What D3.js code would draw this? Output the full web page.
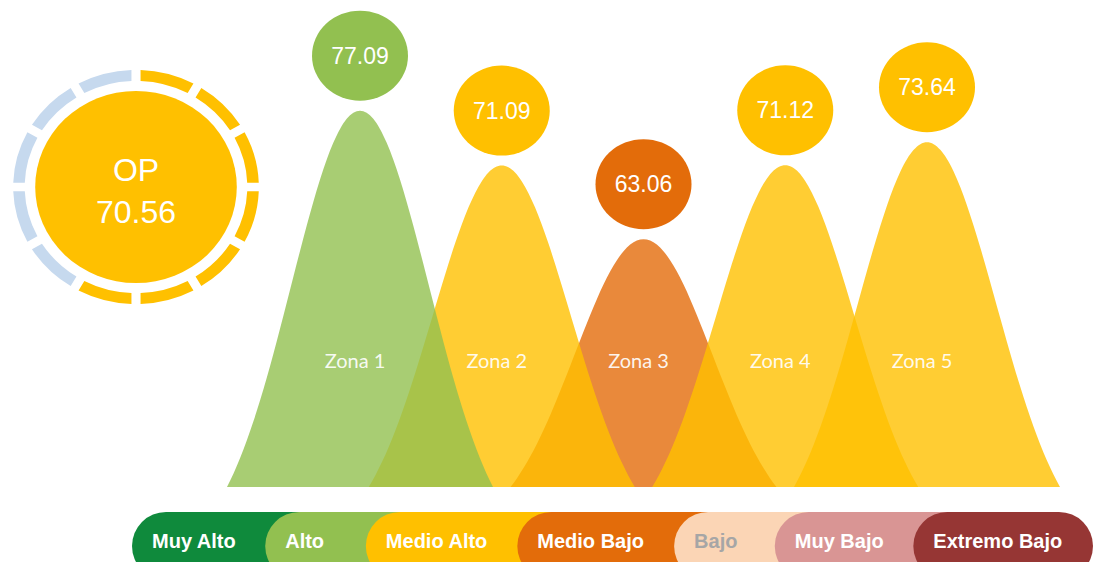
<!DOCTYPE html>
<html>
<head>
<meta charset="utf-8">
<script src="https://cdn.jsdelivr.net/npm/d3@7"></script>
<style>
  body { margin: 0; background: #fff; }
</style>
</head>
<body>
<script>
const width = 1097;
const height = 562;

// zone scores
const zones = ["Zona 1", "Zona 2", "Zona 3", "Zona 4", "Zona 5"];
const scores = [77.09, 71.09, 63.06, 71.12, 73.64];

// overall score and its ring
const overallLabel = "OP";
const overallScore = 70.56;
const ringSegments = 12;
const ringFilled = 7;

// levels, from highest to lowest
const levels = ["Muy Alto", "Alto", "Medio Alto", "Medio Bajo", "Bajo", "Muy Bajo", "Extremo Bajo"];
const levelColors = ["#0f8a3c", "#92c050", "#ffc000", "#e36c0a", "#fbd5b5", "#d99594", "#963634"];
const levelTextColors = ["#fff", "#fff", "#fff", "#fff", "#a6a6a6", "#fff", "#fff"];
// lower bound of each level, lowest first (Muy Bajo ... Muy Alto)
const levelThresholds = [40, 50, 60, 70, 75, 80];

const levelColor = d3.scaleThreshold()
    .domain(levelThresholds)
    .range(levelColors.slice().reverse());

const svg = d3.select("body")
    .append("svg")
    .attr("width", width)
    .attr("height", height);

// ---- overall donut
const donut = svg.append("g")
    .attr("transform", "translate(136,187) scale(1.05,1)");

const pie = d3.pie().sort(null).value(1).padAngle(0.055);
const ringArc = d3.arc().innerRadius(106).outerRadius(117);

donut.selectAll("path")
    .data(pie(d3.range(ringSegments)))
    .join("path")
    .attr("d", ringArc)
    .attr("fill", (d, i) => i < ringFilled ? levelColor(overallScore) : "#c6d9ee");

donut.append("circle")
    .attr("r", 96)
    .attr("fill", levelColor(overallScore));

svg.append("text")
    .attr("x", 136)
    .attr("y", 181)
    .attr("text-anchor", "middle")
    .style("font", "32px 'Liberation Sans', Arial, sans-serif")
    .attr("fill", "#fff")
    .text(overallLabel);

svg.append("text")
    .attr("x", 136)
    .attr("y", 223)
    .attr("text-anchor", "middle")
    .style("font", "32px 'Liberation Sans', Arial, sans-serif")
    .attr("fill", "#fff")
    .text(overallScore.toFixed(2));

// ---- zone bells
const base = 487;
const x = d3.scalePoint().domain(zones).range([360, 927]);
const y = d3.scaleLinear().domain([36, 80]).range([base, 84]);

const halfBase = 133;
const sigma = 69;
const edge = Math.exp(-halfBase * halfBase / (2 * sigma * sigma));
const bell = d => (Math.exp(-d * d / (2 * sigma * sigma)) - edge) / (1 - edge);
const offsets = d3.range(41).map(i => -halfBase + i * 2 * halfBase / 40);

const rows = zones.map((z, i) => ({ zone: z, score: scores[i] }));
// lower scores underneath
const drawOrder = rows.slice().sort((a, b) => a.score - b.score);

svg.append("g")
    .selectAll("path")
    .data(drawOrder)
    .join("path")
    .attr("d", r => d3.area()
        .x(d => x(r.zone) + d)
        .y0(base)
        .y1(d => base - (base - y(r.score)) * bell(d))
        .curve(d3.curveMonotoneX)(offsets))
    .attr("fill", r => levelColor(r.score))
    .attr("fill-opacity", 0.8);

// zone names
svg.append("g")
    .selectAll("text")
    .data(rows)
    .join("text")
    .attr("x", r => x(r.zone) - 5)
    .attr("y", 368)
    .attr("text-anchor", "middle")
    .style("font", "20px Lato, 'Open Sans', sans-serif")
    .attr("fill", "#fff")
    .attr("fill-opacity", 0.92)
    .text(r => r.zone);

// value bubbles
const bubbles = svg.append("g")
    .selectAll("g")
    .data(rows)
    .join("g")
    .attr("transform", r => `translate(${x(r.zone)},${y(r.score) - 55})`);

bubbles.append("ellipse")
    .attr("rx", 48)
    .attr("ry", 45)
    .attr("fill", r => levelColor(r.score));

bubbles.append("text")
    .attr("y", 8)
    .attr("text-anchor", "middle")
    .style("font", "23px 'Liberation Sans', Arial, sans-serif")
    .attr("fill", "#fff")
    .text(r => r.score.toFixed(2));

// ---- legend pills
const pillTop = 512;
const pillH = 68;
const pillR = 34;

const items = svg.append("g")
    .selectAll("g")
    .data(levels)
    .join("g");

const rects = items.append("rect")
    .attr("y", pillTop)
    .attr("height", pillH)
    .attr("rx", pillR)
    .attr("fill", (d, i) => levelColors[i]);

const labels = items.append("text")
    .attr("y", 548)
    .style("font", "bold 20px 'Liberation Sans', Arial, sans-serif")
    .attr("fill", (d, i) => levelTextColors[i])
    .text(d => d);

const textW = labels.nodes().map(n => n.getComputedTextLength());
const ends = d3.cumsum(textW.map(w => Math.max(w + 46, 98)));
const lx = d3.scaleLinear().domain([0, ends[ends.length - 1]]).range([132, 1093]);
const starts = levels.map((d, i) => lx(i === 0 ? 0 : ends[i - 1]));

rects
    .attr("x", (d, i) => starts[i])
    .attr("width", (d, i) => i < levels.length - 1
        ? lx(ends[i]) + 2 * pillR - starts[i]
        : lx(ends[i]) - starts[i]);

labels.attr("x", (d, i) => starts[i] + 20);
</script>
</body>
</html>
